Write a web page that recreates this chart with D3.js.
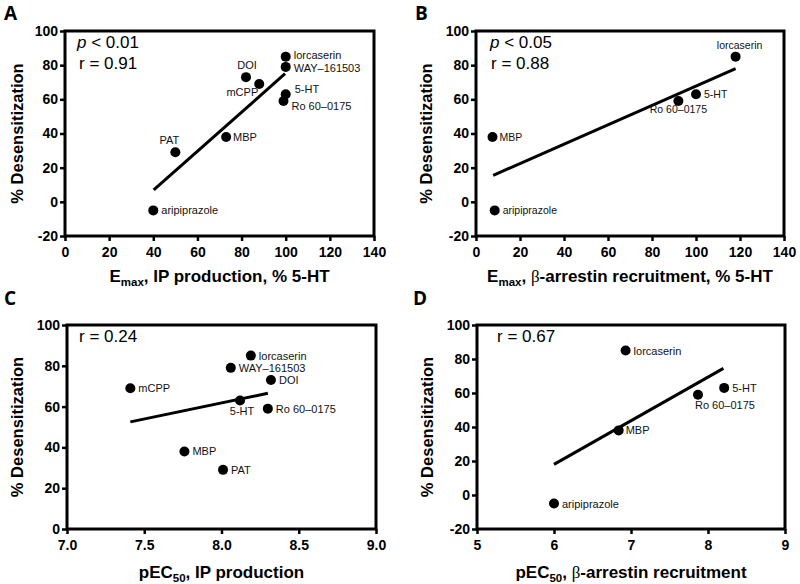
<!DOCTYPE html>
<html>
<head>
<meta charset="utf-8">
<script src="https://cdn.jsdelivr.net/npm/d3@7"></script>
<style>
  html, body { margin: 0; padding: 0; background: #fff; }
  svg { display: block; font-family: Arial, "Liberation Sans", sans-serif; }
</style>
</head>
<body>
<svg id="chart" width="800" height="584"></svg>
<script>
// ---------------- DATA ----------------
// Panel A: Emax, IP production (% 5-HT) vs % desensitization
const namesA = ["lorcaserin", "WAY–161503", "DOI", "mCPP", "5-HT", "Ro 60–0175", "MBP", "PAT", "aripiprazole"];
const xA = [100, 100, 82, 88, 100, 99, 73, 50, 40];
const yA = [85, 79, 73, 69, 63, 59, 38, 29, -5];
const fitA = [[40.2, 7], [99.7, 75]];

// Panel B: Emax, beta-arrestin recruitment (% 5-HT)
const namesB = ["lorcaserin", "5-HT", "Ro 60–0175", "MBP", "aripiprazole"];
const xB = [118, 100, 92, 7.5, 8.5];
const yB = [85, 63, 59, 38, -5];
const fitB = [[7.8, 15.5], [118, 78]];

// Panel C: pEC50, IP production
const namesC = ["lorcaserin", "WAY–161503", "DOI", "mCPP", "5-HT", "Ro 60–0175", "MBP", "PAT"];
const xC = [8.19, 8.06, 8.32, 7.41, 8.12, 8.30, 7.76, 8.01];
const yC = [85, 79, 73, 69, 63, 59, 38, 29];
const fitC = [[7.41, 52.5], [8.30, 66.5]];

// Panel D: pEC50, beta-arrestin recruitment
const namesD = ["lorcaserin", "5-HT", "Ro 60–0175", "MBP", "aripiprazole"];
const xD = [6.93, 8.21, 7.87, 6.84, 6.0];
const yD = [85, 63, 59, 38, -5];
const fitD = [[6.0, 18], [8.2, 74.5]];

// Tick values
const ticksXA = [0, 20, 40, 60, 80, 100, 120, 140];
const ticksXB = [0, 20, 40, 60, 80, 100, 120, 140];
const ticksXC = [7.0, 7.5, 8.0, 8.5, 9.0];
const ticksXD = [5, 6, 7, 8, 9];
const ticksY120 = [-20, 0, 20, 40, 60, 80, 100];
const ticksY100 = [0, 20, 40, 60, 80, 100];

// ---------------- LAYOUT / STYLE ----------------
// label placement (style, not data): [anchor, dx, dy]
const placeA = {"lorcaserin":["start",8,2.5],"WAY–161503":["start",8,5.5],"DOI":["middle",1,-8],"mCPP":["end",-1,12],
  "5-HT":["start",9,-1],"Ro 60–0175":["start",8,9],"MBP":["start",7,4],"PAT":["middle",-6,-8],"aripiprazole":["start",8,4]};
const placeB = {"lorcaserin":["middle",4,-8],"5-HT":["start",8,4],"Ro 60–0175":["middle",0,12],"MBP":["start",7,4],"aripiprazole":["start",8,4]};
const placeC = {"lorcaserin":["start",8,4],"WAY–161503":["start",8,4],"DOI":["start",8,4],"mCPP":["start",8,4],
  "5-HT":["middle",2,15],"Ro 60–0175":["start",8,4],"MBP":["start",8,4],"PAT":["start",8,4]};
const placeD = {"lorcaserin":["start",8,4],"5-HT":["start",8,4],"Ro 60–0175":["start",-3,14],"MBP":["start",7,4],"aripiprazole":["start",8,4]};

const intFmt = d => String(d);            // plain hyphen-minus like the reference
const oneFmt = d => d.toFixed(1);

const panels = [
  {letter:"A", lx:4, ly:20, L:65, R:374, T:31, B:236, xd:[0,140], yd:[-20,100], xt:ticksXA, yt:ticksY120, xf:intFmt,
   names:namesA, xs:xA, ys:yA, fit:fitA, place:placeA, fs:11,
   ann:[{p:"0.01", x:77, y:48}, {r:"0.91", x:79, y:69}], ytx:23, xtitle:"A", xty:282},
  {letter:"B", lx:415, ly:20, L:476, R:784, T:31, B:236, xd:[0,140], yd:[-20,100], xt:ticksXB, yt:ticksY120, xf:intFmt,
   names:namesB, xs:xB, ys:yB, fit:fitB, place:placeB, fs:10.5,
   ann:[{p:"0.05", x:490, y:48}, {r:"0.88", x:491, y:69}], ytx:432, xtitle:"B", xty:282},
  {letter:"C", lx:4, ly:305, L:67, R:376, T:325, B:529, xd:[7,9], yd:[0,100], xt:ticksXC, yt:ticksY100, xf:oneFmt,
   names:namesC, xs:xC, ys:yC, fit:fitC, place:placeC, fs:11,
   ann:[{r:"0.24", x:79, y:342}], ytx:23, xtitle:"C", xty:578},
  {letter:"D", lx:413, ly:305, L:477, R:785, T:325, B:529, xd:[5,9], yd:[-20,100], xt:ticksXD, yt:ticksY120, xf:intFmt,
   names:namesD, xs:xD, ys:yD, fit:fitD, place:placeD, fs:11,
   ann:[{r:"0.67", x:497, y:342}], ytx:433, xtitle:"D", xty:578}
];

const svg = d3.select("#chart");

function xTitle(g, key) {
  const t = g.append("text").attr("text-anchor","middle").attr("font-weight","bold").attr("font-size",17);
  if (key === "A" || key === "B") {
    t.append("tspan").text("E");
    t.append("tspan").attr("font-size",11.5).attr("dy",4).text("max");
    if (key === "A") {
      t.append("tspan").attr("dy",-4).text(", IP production, % 5-HT");
    } else {
      t.append("tspan").attr("dy",-4).text(", ");
      t.append("tspan").attr("font-weight","normal").attr("font-family","'Liberation Serif', serif").text("β");
      t.append("tspan").text("-arrestin recruitment, % 5-HT");
    }
  } else {
    t.append("tspan").text("pEC");
    t.append("tspan").attr("font-size",11.5).attr("dy",4).text("50");
    if (key === "C") {
      t.append("tspan").attr("dy",-4).text(", IP production");
    } else {
      t.append("tspan").attr("dy",-4).text(", ");
      t.append("tspan").attr("font-weight","normal").attr("font-family","'Liberation Serif', serif").text("β");
      t.append("tspan").text("-arrestin recruitment");
    }
  }
  return t;
}

panels.forEach(P => {
  const x = d3.scaleLinear().domain(P.xd).range([P.L, P.R]);
  const y = d3.scaleLinear().domain(P.yd).range([P.B, P.T]);
  const g = svg.append("g");

  // panel letter
  g.append("text").attr("x", P.lx).attr("y", P.ly).attr("font-size", 19).attr("font-weight","bold")
    .attr("font-family","'Open Sans', 'Liberation Sans', sans-serif").text(P.letter);

  // axes
  const ax = g.append("g").attr("transform", `translate(0,${P.B})`)
    .call(d3.axisBottom(x).tickValues(P.xt).tickFormat(P.xf).tickSize(5).tickSizeOuter(0).tickPadding(6));
  const ay = g.append("g").attr("transform", `translate(${P.L},0)`)
    .call(d3.axisLeft(y).tickValues(P.yt).tickFormat(intFmt).tickSize(5).tickSizeOuter(0).tickPadding(2));
  [ax, ay].forEach(a => {
    a.attr("font-family", null);
    a.select(".domain").remove();
    a.selectAll(".tick line").attr("stroke","#000").attr("stroke-width",2.5);
    a.selectAll(".tick text").attr("fill","#000").attr("font-size",14).attr("font-weight","bold")
      .attr("font-family","Arial, 'Liberation Sans', sans-serif");
  });

  // frame
  g.append("rect").attr("x", P.L).attr("y", P.T).attr("width", P.R - P.L).attr("height", P.B - P.T)
    .attr("fill","none").attr("stroke","#000").attr("stroke-width",3);

  // regression line
  g.append("line").attr("x1", x(P.fit[0][0])).attr("y1", y(P.fit[0][1]))
    .attr("x2", x(P.fit[1][0])).attr("y2", y(P.fit[1][1]))
    .attr("stroke","#000").attr("stroke-width",3);

  // points
  const pts = P.names.map((n,i) => ({n, x:P.xs[i], y:P.ys[i]}));
  g.selectAll("circle.pt").data(pts).enter().append("circle")
    .attr("cx", d => x(d.x)).attr("cy", d => y(d.y)).attr("r", 5).attr("fill","#000");
  g.selectAll("text.lbl").data(pts).enter().append("text")
    .attr("x", d => x(d.x) + P.place[d.n][1]).attr("y", d => y(d.y) + P.place[d.n][2])
    .attr("text-anchor", d => P.place[d.n][0]).attr("font-size", P.fs).attr("fill","#111").text(d => d.n);

  // annotations
  P.ann.forEach(a => {
    const t = g.append("text").attr("x", a.x).attr("y", a.y).attr("font-size", 17);
    if (a.p) { t.append("tspan").attr("font-style","italic").text("p"); t.append("tspan").text(" < " + a.p); }
    else t.text("r = " + a.r);
  });

  // y title
  g.append("text").attr("transform", `translate(${P.ytx},${(P.T + P.B) / 2}) rotate(-90)`)
    .attr("text-anchor","middle").attr("font-size",16.5).attr("font-weight","bold").text("% Desensitization");

  // x title
  xTitle(g, P.xtitle).attr("x", (P.L + P.R) / 2).attr("y", P.xty);
});
</script>
</body>
</html>
